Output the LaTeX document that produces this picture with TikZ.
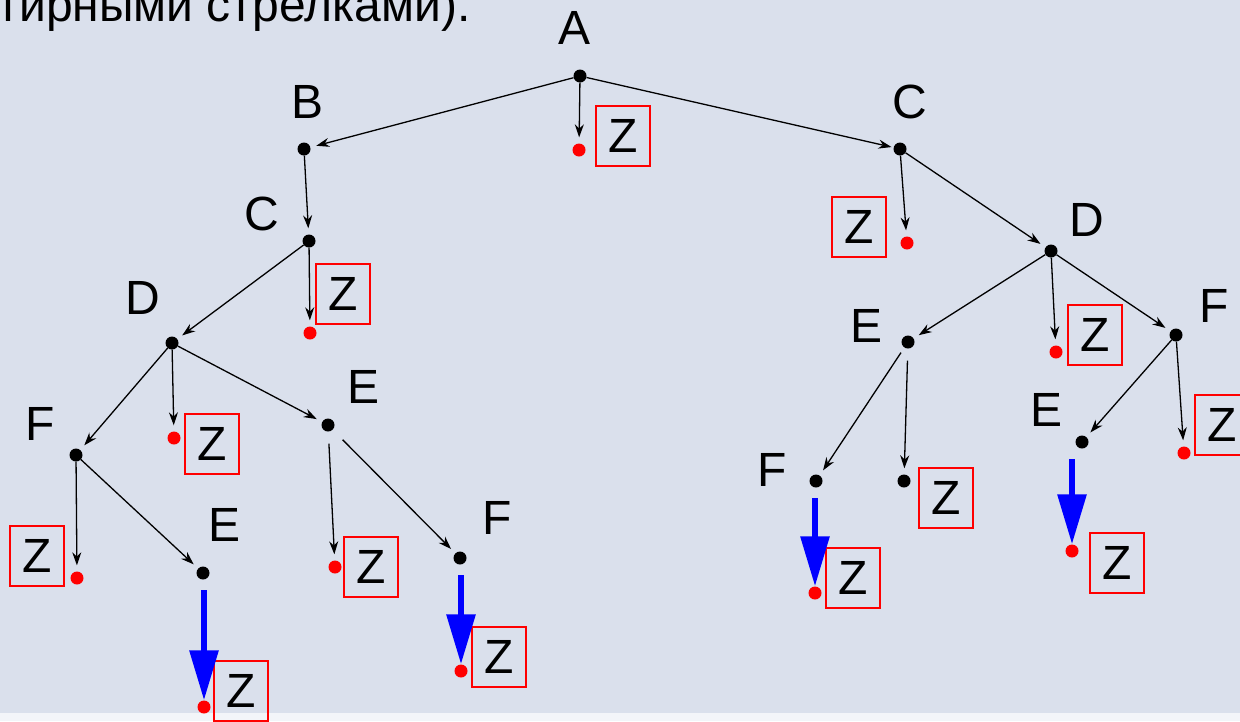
\documentclass[tikz,border=0pt]{standalone}
\usepackage{fontspec}
\setmainfont{Liberation Sans}
\usetikzlibrary{arrows.meta}
\definecolor{slide}{HTML}{DAE0EC}
\definecolor{strip}{HTML}{F3F5F9}

\begin{document}
\begin{tikzpicture}[x=1pt,y=-1pt,
	every node/.style={font=\fontsize{48}{56}\selectfont,inner sep=0pt},
	dot/.style={circle,fill=black,minimum size=13pt},
	zdot/.style={circle,fill=red,minimum size=13pt},
	zbox/.style={draw=red,line width=1.5pt,minimum width=54pt,minimum height=60pt},
	edge/.style={-{Stealth[length=13pt,width=9pt]},line width=1.3pt,shorten >=6pt},
	hit/.style={-{Triangle[length=50pt,width=28pt]},blue,line width=6pt,shorten <=17pt}]
	\useasboundingbox (0,0) rectangle (1240,721);
	\fill [slide] (0,0) rectangle (1240,713);
	\fill [strip] (0,713) rectangle (1240,721);
	\node [anchor=base west] (note) at (-3,21) {тирными стрелками).};
	% nodes of the tree
	\node [dot] (a) at (580,76) {};
	\node [dot] (b) at (304,149) {};
	\node [dot] (cR) at (900,149) {};
	\node [dot] (cL) at (309,241) {};
	\node [dot] (dL) at (172,343) {};
	\node [dot] (dR) at (1051,251) {};
	\node [dot] (eR) at (908,342) {};
	\node [dot] (fR) at (1176,335) {};
	\node [dot] (fRE) at (816,481) {};
	\node [dot] (zRE) at (904,481) {};
	\node [dot] (eRF) at (1082,442) {};
	\node [dot] (fL) at (76,455) {};
	\node [dot] (eL) at (328,425) {};
	\node [dot] (eLF) at (203,573) {};
	\node [dot] (fLE) at (460,558) {};
	% red end points
	\node [zdot] (zA) at (579,150) {};
	\node [zdot] (zCL) at (310,333) {};
	\node [zdot] (zCR) at (907,243) {};
	\node [zdot] (zDR) at (1056,352) {};
	\node [zdot] (zFR) at (1184,453) {};
	\node [zdot] (zFRE) at (815,593) {};
	\node [zdot] (zERF) at (1072,551) {};
	\node [zdot] (zDL) at (174,438) {};
	\node [zdot] (zFL) at (77,578) {};
	\node [zdot] (zELF) at (204,707) {};
	\node [zdot] (zEL) at (335,567) {};
	\node [zdot] (zFLE) at (461,671) {};
	% letters
	\node (la) at (575,28) {A};
	\node (lb) at (308,102) {B};
	\node (lcR) at (910,102) {C};
	\node (lcL) at (262,214) {C};
	\node (ldL) at (143,298) {D};
	\node (ldR) at (1087,220) {D};
	\node (leR) at (866,326) {E};
	\node (lfR) at (1214,306) {F};
	\node (lfRE) at (772,470) {F};
	\node (leRF) at (1046,410) {E};
	\node (lfL) at (40,424) {F};
	\node (leL) at (364,387) {E};
	\node (leLF) at (225,525) {E};
	\node (lfLE) at (497,518) {F};
	% Z boxes
	\node [zbox] (bA) at (623,136) {Z};
	\node [zbox] (bCR) at (859,227) {Z};
	\node [zbox] (bCL) at (343,294) {Z};
	\node [zbox] (bDR) at (1095,335) {Z};
	\node [zbox] (bRE) at (946,498) {Z};
	\node [zbox] (bFRE) at (853,578) {Z};
	\node [zbox] (bFR) at (1222,425) {Z};
	\node [zbox] (bERF) at (1117,563) {Z};
	\node [zbox] (bDL) at (212,444) {Z};
	\node [zbox] (bFL) at (37,556) {Z};
	\node [zbox] (bELF) at (241,691) {Z};
	\node [zbox] (bEL) at (371,567) {Z};
	\node [zbox] (bFLE) at (499,657) {Z};
	% edges
	\draw [edge] (a) -- (b);
	\draw [edge] (a) -- (zA);
	\draw [edge,shorten >=2pt] (a) -- (cR);
	\draw [edge] (b) -- (cL);
	\draw [edge] (cL) -- (zCL);
	\draw [edge] (cL) -- (dL);
	\draw [edge] (cR) -- (zCR);
	\draw [edge] (cR) -- (dR);
	\draw [edge] (dR) -- (eR);
	\draw [edge] (dR) -- (zDR);
	\draw [edge] (dR) -- (fR);
	\draw [edge,shorten <=6pt] (eR) -- (fRE);
	\draw [edge,shorten <=12pt] (eR) -- (zRE);
	\draw [edge] (fR) -- (eRF);
	\draw [edge] (fR) -- (zFR);
	\draw [edge] (dL) -- (fL);
	\draw [edge] (dL) -- (zDL);
	\draw [edge] (dL) -- (eL);
	\draw [edge] (fL) -- (zFL);
	\draw [edge] (fL) -- (eLF);
	\draw [edge,shorten <=12pt] (eL) -- (zEL);
	\draw [edge,shorten <=14pt] (eL) -- (fLE);
	% winning moves
	\draw [hit] (zFRE |- fRE) -- (zFRE);
	\draw [hit] (zERF |- eRF) -- (zERF);
	\draw [hit] (zELF |- eLF) -- (zELF);
	\draw [hit] (zFLE |- fLE) -- (zFLE);
\end{tikzpicture}
\end{document}
